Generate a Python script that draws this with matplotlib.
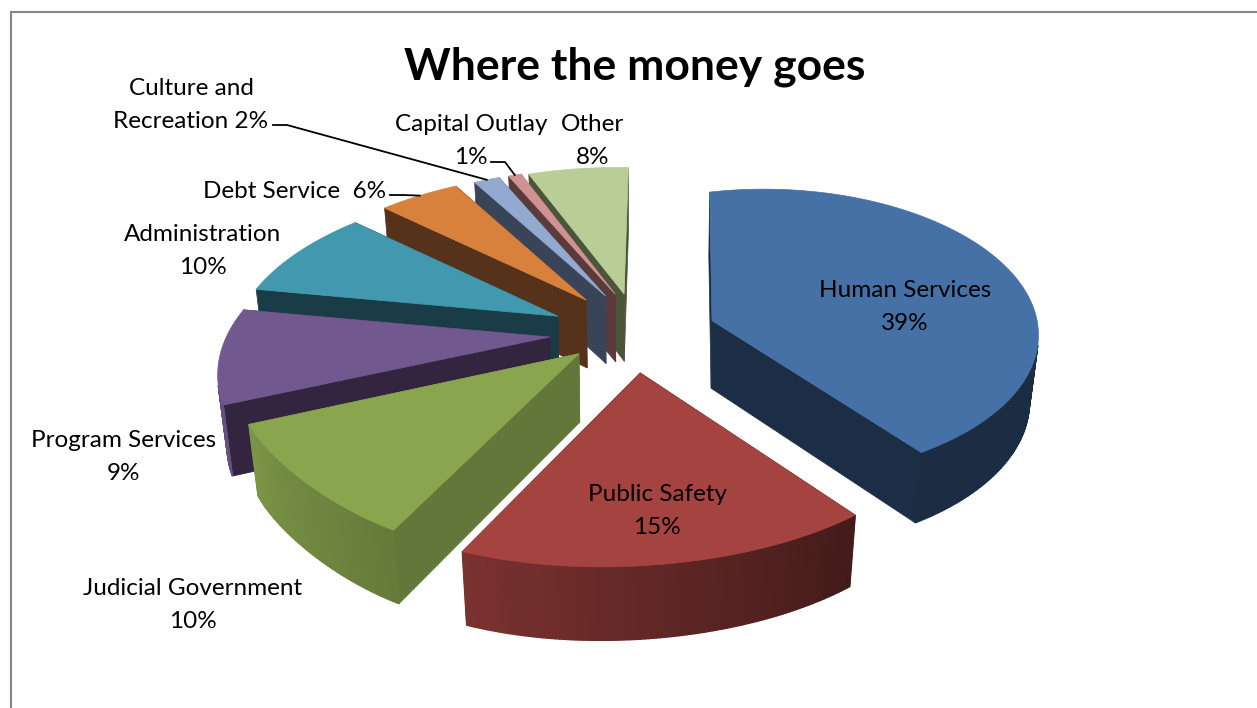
import numpy as np
import matplotlib
matplotlib.use("Agg")
import matplotlib.pyplot as plt
from matplotlib.colors import to_rgb

# clockwise from the top
categories = ["Human Services", "Public Safety", "Judicial Government", "Program Services",
              "Administration", "Debt Service", "Culture and Recreation", "Capital Outlay", "Other"]
percent = [39, 15, 10, 9, 10, 6, 2, 1, 8]
label_text = ["Human Services\n39%", "Public Safety\n15%", "Judicial Government\n10%",
              "Program Services\n9%", "Administration\n10%", "Debt Service  6%",
              "Culture and\nRecreation 2%", "Capital Outlay\n1%", "Other\n8%"]

top_colors = ["#4571a7", "#a54340", "#89a54e", "#71588f", "#4198af",
              "#d8813d", "#93a9cf", "#d19392", "#b9cd96"]
cut_colors = ["#1b2e45", "#431a17", "#64773a", "#33243f", "#1a3c47",
              "#56321a", "#3a4459", "#5a3a3a", "#4b5539"]

# layout on the page, in pixels
label_xy = [(905, 307), (657, 511), (193, 605), (124, 457), (203, 251),
            (295, 191), (191, 105), (471, 141), (593, 141)]
leader_from = {5: (390, 195), 6: (273, 125), 7: (491, 162)}
leader_knee = {5: (403, 195), 6: (287, 125), 7: (505, 162)}
slice_shift = [(51, 4), (13, 24), (-12, 12), (-31, 8), (-28, -1),
               (-11, -10), (1, -12), (8, -13), (8, -12)]
arc_bulge = [0.18, -0.025, -0.02, 0, 0, 0, 0, 0, 0]

H = [333.34, 113.786, 623.7, 13.9267, -97.5956, 326.744, 0.0465989, 0.176313]
explode = 0.14
turn_front, turn_side = 0.1745, -0.2094
depth = 68

shade_angle = [40, 140, 194, 230, 275]
shade_value = [0.39, 0.40, 0.74, 0.90, 0.90]

edges = np.concatenate([[0], np.cumsum(percent)]) * 3.6


def warp(t):
    return t + turn_front * (1 - np.cos(t)) / 2 + turn_side * np.sin(t)


def project(theta, r, i, z=0.0):
    a0, a1 = np.radians(edges[i]), np.radians(edges[i + 1])
    m = warp((a0 + a1) / 2)
    t = warp(theta)
    rad = r * (1 + arc_bulge[i] * np.sin(np.pi * (theta - a0) / (a1 - a0)))
    p = explode * np.sin(m) + rad * np.sin(t)
    q = explode * np.cos(m) + rad * np.cos(t)
    w = H[6] * p + H[7] * q + 1
    x = (H[0] * p + H[1] * q + H[2]) / w
    y = (H[3] * p + H[4] * q + H[5]) / w
    x = H[2] + (x - H[2]) * (1 - 0.025 * z)
    return x + slice_shift[i][0], y + z * depth * w ** -0.35 + slice_shift[i][1]


fig = plt.figure(figsize=(12.57, 7.08), dpi=100)
ax = fig.add_axes([0, 0, 1, 1])
ax.set_xlim(0, 1257)
ax.set_ylim(708, 0)
ax.axis("off")

z = 2
# far slices first so the nearer ones paint over them
for i in [8, 7, 6, 5, 4, 3, 2, 1, 0]:
    a0, a1 = edges[i], edges[i + 1]
    th = np.radians(np.linspace(a0, a1, max(int(a1 - a0) * 2, 6)))
    base = np.array(to_rgb(top_colors[i]))

    for edge in (th[0], th[-1]):
        x0, y0 = project(edge, 0, i)
        x1, y1 = project(edge, 1, i)
        x2, y2 = project(edge, 1, i, 1)
        x3, y3 = project(edge, 0, i, 1)
        ax.fill([x0, x1, x2, x3], [y0, y1, y2, y3], color=cut_colors[i], lw=0.5, zorder=z)
        z += 1

    # outer wall, only the strips facing the viewer
    for t0, t1 in zip(th[:-1], th[1:]):
        xa, ya = project(t0, 1, i)
        xb, yb = project(t1, 1, i)
        xc, yc = project(t1, 1, i, 1)
        xd, yd = project(t0, 1, i, 1)
        if (xb - xa) * (yc - ya) - (yb - ya) * (xc - xa) < 0:
            shade = np.interp(np.degrees((t0 + t1) / 2), shade_angle, shade_value)
            ax.fill([xa, xb, xc, xd], [ya, yb, yc, yd], color=tuple(base * shade), lw=1, zorder=z)
    z += 1

    xs, ys = project(th, 1, i)
    x0, y0 = project(th[0], 0, i)
    ax.fill(np.r_[x0, xs], np.r_[y0, ys], color=top_colors[i], lw=0.5, zorder=z)
    z += 1

for i, (x, y) in enumerate(label_xy):
    ax.text(x, y, label_text[i], ha="center", va="center", fontsize=17.5,
            family="Lato", linespacing=1.65, color="black", zorder=200)

for i, start in leader_from.items():
    ex, ey = project(np.radians((edges[i] + edges[i + 1]) / 2), 1, i)
    knee = leader_knee[i]
    ax.plot([start[0], knee[0], ex], [start[1], knee[1], ey], color="black", lw=1.3, zorder=150)

ax.text(635, 67, "Where the money goes", ha="center", va="center", fontsize=32,
        family="Lato", fontweight="bold", color="black", zorder=200)

# chart frame, only top and left are inside the crop
ax.plot([11, 11], [708, 12], color="#868686", lw=1.5, zorder=1)
ax.plot([11, 1257], [12, 12], color="#868686", lw=1.5, zorder=1)

fig.savefig("out.png", dpi=100)
